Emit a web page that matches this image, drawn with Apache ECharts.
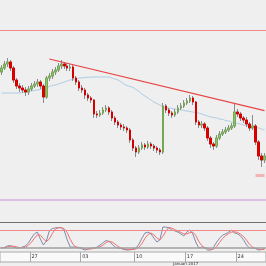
<!DOCTYPE html>
<html><head><meta charset="utf-8">
<script src="https://cdn.jsdelivr.net/npm/echarts@6/dist/echarts.min.js"></script>
<style>html,body{margin:0;padding:0;background:#efefef;overflow:hidden}#c{width:266px;height:266px}</style>
</head><body><div id="c"></div>
<script>
const opens = [
1.128,1.132,1.136,1.138,1.132,1.120,1.114,1.112,1.110,1.108,
1.111,1.114,1.116,1.118,1.114,1.103,1.122,1.124,1.128,1.130,
1.134,1.136,1.134,1.132,1.133,1.122,1.118,1.112,1.110,1.105,
1.102,1.100,1.086,1.085,1.087,1.090,1.092,1.088,1.082,1.078,
1.075,1.073,1.072,1.070,1.060,1.052,1.048,1.052,1.055,1.053,
1.056,1.054,1.052,1.050,1.048,1.094,1.090,1.087,1.085,1.088,
1.092,1.094,1.097,1.099,1.102,1.098,1.078,1.075,1.076,1.072,
1.062,1.056,1.054,1.062,1.066,1.068,1.070,1.072,1.074,1.088,
1.086,1.082,1.080,1.076,1.072,1.074,1.058,1.044,1.040];
const closes = [
1.132,1.136,1.138,1.132,1.120,1.114,1.112,1.110,1.108,1.111,
1.114,1.116,1.118,1.114,1.103,1.122,1.124,1.128,1.130,1.134,
1.136,1.134,1.132,1.133,1.122,1.118,1.112,1.110,1.105,1.102,
1.100,1.086,1.085,1.087,1.090,1.092,1.088,1.082,1.078,1.075,
1.073,1.072,1.070,1.060,1.052,1.048,1.052,1.055,1.053,1.056,
1.054,1.052,1.050,1.048,1.094,1.090,1.087,1.085,1.088,1.092,
1.094,1.097,1.099,1.102,1.098,1.078,1.075,1.076,1.072,1.062,
1.056,1.054,1.062,1.066,1.068,1.070,1.072,1.074,1.088,1.086,
1.082,1.080,1.076,1.072,1.074,1.058,1.044,1.040,1.044];
const highs = [
1.135,1.139,1.142,1.140,1.134,1.122,1.117,1.115,1.113,1.114,
1.117,1.119,1.121,1.120,1.116,1.124,1.127,1.131,1.133,1.137,
1.140,1.138,1.137,1.136,1.135,1.124,1.120,1.115,1.112,1.107,
1.104,1.101,1.089,1.090,1.093,1.095,1.094,1.090,1.084,1.080,
1.077,1.076,1.074,1.072,1.062,1.054,1.055,1.058,1.057,1.059,
1.058,1.056,1.054,1.052,1.097,1.096,1.092,1.089,1.091,1.095,
1.097,1.100,1.102,1.105,1.104,1.099,1.080,1.079,1.078,1.074,
1.064,1.058,1.065,1.069,1.071,1.073,1.075,1.077,1.097,1.091,
1.088,1.084,1.083,1.078,1.085,1.076,1.060,1.047,1.047];
const lows = [
1.125,1.130,1.133,1.129,1.117,1.111,1.108,1.107,1.104,1.105,
1.109,1.112,1.113,1.111,1.097,1.101,1.119,1.121,1.125,1.128,
1.131,1.131,1.129,1.129,1.119,1.115,1.109,1.107,1.101,1.099,
1.097,1.082,1.082,1.083,1.085,1.088,1.085,1.079,1.075,1.072,
1.070,1.069,1.067,1.057,1.049,1.043,1.046,1.050,1.050,1.051,
1.051,1.049,1.047,1.045,1.046,1.087,1.084,1.082,1.083,1.086,
1.090,1.092,1.095,1.097,1.095,1.075,1.072,1.072,1.069,1.059,
1.052,1.050,1.052,1.060,1.064,1.066,1.068,1.070,1.072,1.083,
1.079,1.077,1.073,1.069,1.070,1.055,1.040,1.033,1.037];
const maValues = [
1.107,1.107,1.107,1.107,1.107,1.107,1.107,1.1075,1.108,1.1085,
1.109,1.1095,1.110,1.1105,1.1115,1.1125,1.1135,1.1145,1.115,1.116,
1.117,1.118,1.119,1.120,1.1205,1.121,1.122,1.1222,1.1225,1.1227,
1.1228,1.123,1.123,1.123,1.123,1.123,1.123,1.122,1.121,1.120,
1.118,1.116,1.1145,1.1135,1.1125,1.1105,1.1085,1.106,1.104,1.102,
1.100,1.098,1.0965,1.095,1.0935,1.0925,1.092,1.0915,1.091,1.0905,
1.090,1.0895,1.089,1.0885,1.088,1.0875,1.087,1.086,1.085,1.084,
1.083,1.0825,1.082,1.081,1.0805,1.0795,1.079,1.078,1.077,1.0765,
1.076,1.075,1.0745,1.074,1.073,1.0725,1.072,1.071,1.070];
const stochK = [
20,22,27,28,23,20,20,23,27,37,
53,67,73,50,30,43,77,85,87,88,
88,77,47,23,23,23,20,17,13,17,
20,20,23,30,38,45,42,33,23,20,
18,15,13,15,17,20,33,53,70,73,
67,53,40,47,90,90,87,80,77,73,
67,60,73,80,67,40,20,23,20,13,
13,23,40,53,63,67,73,80,70,67,
60,47,30,20,20,18,13,15,18];
const stochD = [
22,21,23,26,26,24,21,21,23,29,
39,52,64,63,51,41,50,68,83,87,
88,84,71,49,31,23,22,20,17,16,
17,19,21,24,30,38,42,40,33,25,
20,18,15,14,15,17,23,35,52,65,
70,64,53,47,59,76,89,86,81,77,
72,67,67,71,73,62,42,28,21,19,
15,16,25,39,52,61,68,73,74,72,
66,58,46,32,23,19,17,15,15];
const tickIndex = [10, 27, 45, 62, 79];
const tickLabels = ['27', '03', '10', '17', '24'];
const monthLabel = 'Januari 2017';
const resistanceLevel = 1.170;
const supportLevel = 0.999;
const trendStart = [16, 1.141];
const trendEnd = [88, 1.0893];
const lowMarkerLevel = 1.025;
const lowMarkerRange = [85, 88];
const stochUpper = 80;
const stochLower = 20;

const categories = opens.map((_, i) => String(i));
const wickData = opens.map((o, i) => [o, closes[i], lows[i], highs[i]]);
const bodyData = opens.map((o, i) => [o, closes[i], Math.min(o, closes[i]), Math.max(o, closes[i])]);
const isTick = (idx) => tickIndex.indexOf(idx) >= 0;

const chart = echarts.init(document.getElementById('c'), null, {renderer: 'canvas'});
chart.setOption({
  animation: false,
  backgroundColor: '#efefef',
  grid: [
    {left: 0, right: 0, top: 0, height: 222},
    {left: 0, right: 0, top: 224, height: 30},
    {left: 0, right: 0, top: 252, height: 10, show: true, backgroundColor: '#fafafa', borderColor: '#a9a9a9', borderWidth: 1}
  ],
  xAxis: [
    {type: 'category', gridIndex: 0, data: categories, show: false},
    {type: 'category', gridIndex: 1, data: categories, show: false},
    {type: 'category', gridIndex: 2, data: categories, position: 'top',
      axisLine: {show: false}, axisTick: {show: false},
      axisLabel: {inside: true, interval: (i) => isTick(i), formatter: (v, i) => tickLabels[tickIndex.indexOf(i)] || '',
        align: 'left', verticalAlign: 'top', fontSize: 5, color: '#333', margin: 2, fontFamily: 'DejaVu Sans'},
      splitLine: {show: true, interval: (i) => isTick(i), lineStyle: {color: '#a9a9a9', width: 1}}}
  ],
  yAxis: [
    {type: 'value', gridIndex: 0, min: 0.978, max: 1.2, show: false},
    {type: 'value', gridIndex: 1, min: 0, max: 100, show: false},
    {type: 'value', gridIndex: 2, min: 0, max: 1, show: false}
  ],
  series: [
    {type: 'candlestick', xAxisIndex: 0, yAxisIndex: 0, data: wickData, barWidth: 2,
      itemStyle: {color: '#8a8a8a', color0: '#8a8a8a', borderColor: '#8a8a8a', borderColor0: '#8a8a8a', borderWidth: 1}},
    {type: 'candlestick', xAxisIndex: 0, yAxisIndex: 0, data: bodyData, barWidth: 2,
      itemStyle: {color: '#8cc46a', color0: '#e00000', borderColor: '#74a855', borderColor0: '#d40000', borderWidth: 1},
      markLine: {silent: true, symbol: ['none', 'none'], label: {show: false},
        data: [
          {yAxis: resistanceLevel, lineStyle: {color: '#f08a8a', width: 1, type: 'solid'}},
          {yAxis: supportLevel, lineStyle: {color: '#dcc0e2', width: 2, type: 'solid'}},
          [{coord: trendStart, lineStyle: {color: '#e84545', width: 1.2, type: 'solid'}}, {coord: trendEnd}],
          [{coord: [lowMarkerRange[0], lowMarkerLevel], lineStyle: {color: '#f4b4b4', width: 3, type: 'solid'}}, {coord: [lowMarkerRange[1], lowMarkerLevel]}]
        ]}},
    {type: 'line', xAxisIndex: 0, yAxisIndex: 0, data: maValues, symbol: 'none', smooth: true,
      lineStyle: {color: '#a9cbe6', width: 1}, z: 1},
    {type: 'line', xAxisIndex: 1, yAxisIndex: 1, data: stochK, symbol: 'none',
      lineStyle: {color: '#7d8cab', width: 1},
      markLine: {silent: true, symbol: ['none', 'none'], label: {show: false},
        data: [
          {yAxis: stochUpper, lineStyle: {color: '#f08a8a', width: 1, type: 'solid'}},
          {yAxis: stochLower, lineStyle: {color: '#a0a0a0', width: 1.5, type: 'solid'}}
        ]}},
    {type: 'line', xAxisIndex: 1, yAxisIndex: 1, data: stochD, symbol: 'none',
      lineStyle: {color: '#f07070', width: 1}}
  ],
  graphic: [
    {type: 'line', shape: {x1: 0, y1: 222.5, x2: 266, y2: 222.5}, style: {stroke: '#707070', lineWidth: 1}},
    {type: 'text', left: 173, top: 262, style: {text: monthLabel, fontSize: 4, fill: '#333', fontFamily: 'DejaVu Sans'}}
  ]
});
</script>
</body></html>
